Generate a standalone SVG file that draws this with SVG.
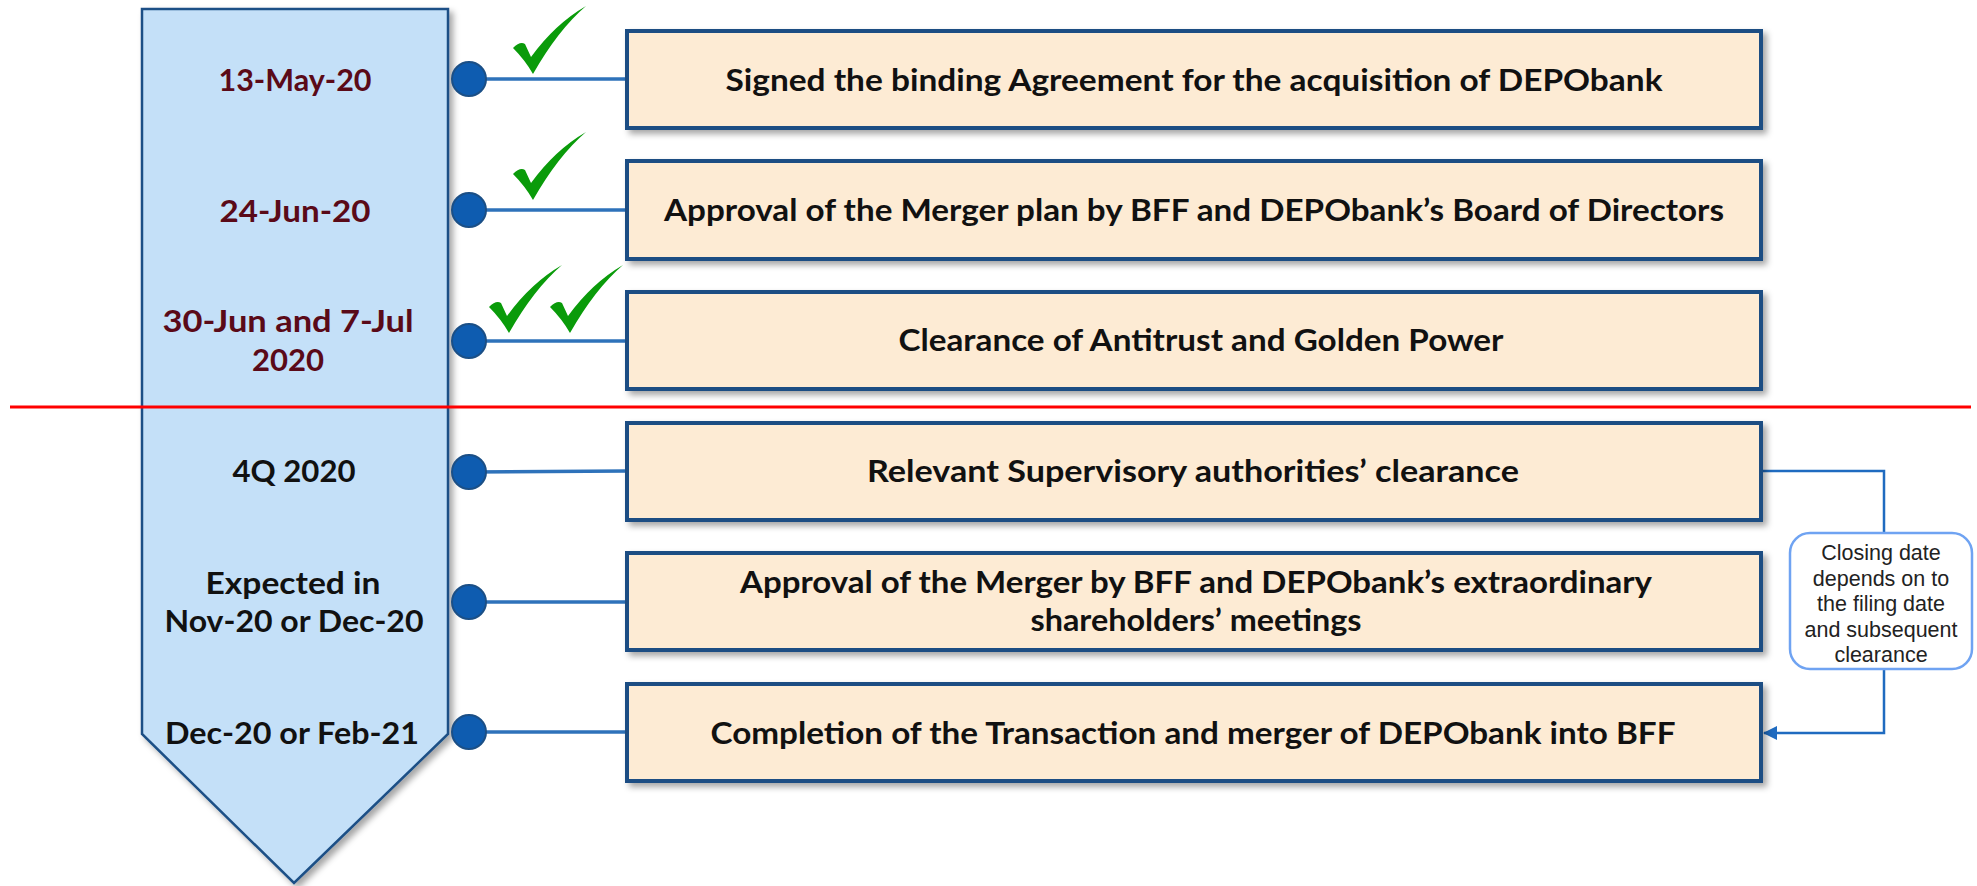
<svg xmlns="http://www.w3.org/2000/svg" width="1977" height="886" viewBox="0 0 1977 886">
<style>
.box{fill:#FDEBD4;stroke:#1F4E83;stroke-width:4;filter:url(#sh)}
.t{font-family:Lato,"Liberation Sans",sans-serif;font-weight:bold;font-size:30px;fill:#111;text-anchor:middle}
.d{font-family:Lato,"Liberation Sans",sans-serif;font-weight:bold;font-size:30px;text-anchor:middle}
.red{fill:#5A0A18}
.blk{fill:#111}
.dot{fill:#0E5CB0;stroke:#1B4F86;stroke-width:2}
.ln{stroke:#2E72BA;stroke-width:3.5;fill:none}
.chk{fill:#0A9B0A}
.co{font-family:"Liberation Sans",sans-serif;font-size:21.5px;fill:#222;text-anchor:middle}
</style>
<defs>
<filter id="sh" x="-5%" y="-10%" width="115%" height="130%">
<feDropShadow dx="4" dy="4" stdDeviation="3" flood-color="#000" flood-opacity="0.35"/>
</filter>
<marker id="ah" markerWidth="14" markerHeight="14" refX="13" refY="7" orient="auto" markerUnits="userSpaceOnUse" viewBox="0 0 14 14">
<path d="M0,0 L14,7 L0,14 Z" fill="#1F6BC0"/>
</marker>
<path id="tick" d="M-17,-26 Q-10,-33 -5,-30 L1,-17 Q25,-50 56,-68 Q28,-44 3,0 Q-5,-14 -17,-26 Z"/>
</defs>
<rect width="1977" height="886" fill="#fff"/>

<g id="timeline">
<path d="M142,9 L448,9 L448,734 L294,883 L142,734 Z" fill="#C4E0F8" stroke="#1B4F86" stroke-width="2.5" filter="url(#sh)"/>
</g>

<g id="connectors">
<line class="ln" x1="469" y1="79" x2="627" y2="79"/>
<line class="ln" x1="469" y1="210" x2="627" y2="210"/>
<line class="ln" x1="469" y1="341" x2="627" y2="341"/>
<line class="ln" x1="469" y1="472" x2="627" y2="471"/>
<line class="ln" x1="469" y1="602" x2="627" y2="602"/>
<line class="ln" x1="469" y1="732" x2="627" y2="732"/>
<polyline points="1761,471 1884,471 1884,533" fill="none" stroke="#1F6BC0" stroke-width="2.5"/>
<polyline points="1884,669 1884,733 1764,733" fill="none" stroke="#1F6BC0" stroke-width="2.5" marker-end="url(#ah)"/>
</g>

<g id="dots">
<circle class="dot" cx="469" cy="79" r="17"/>
<circle class="dot" cx="469" cy="210" r="17"/>
<circle class="dot" cx="469" cy="341" r="17"/>
<circle class="dot" cx="469" cy="472" r="17"/>
<circle class="dot" cx="469" cy="602" r="17"/>
<circle class="dot" cx="469" cy="732" r="17"/>
</g>

<g id="dates">
<text class="d red" x="295" y="91" textLength="153" lengthAdjust="spacingAndGlyphs">13-May-20</text>
<text class="d red" x="295" y="222" textLength="151" lengthAdjust="spacingAndGlyphs">24-Jun-20</text>
<text class="d red" x="288" y="332" textLength="251" lengthAdjust="spacingAndGlyphs">30-Jun and 7-Jul</text>
<text class="d red" x="288" y="371" textLength="72" lengthAdjust="spacingAndGlyphs">2020</text>
<text class="d blk" x="294" y="482" textLength="123" lengthAdjust="spacingAndGlyphs">4Q 2020</text>
<text class="d blk" x="293" y="594" textLength="175" lengthAdjust="spacingAndGlyphs">Expected in</text>
<text class="d blk" x="294" y="632" textLength="259" lengthAdjust="spacingAndGlyphs">Nov-20 or Dec-20</text>
<text class="d blk" x="292" y="744" textLength="254" lengthAdjust="spacingAndGlyphs">Dec-20 or Feb-21</text>
</g>

<g id="checks">
<use href="#tick" class="chk" x="530" y="74"/>
<use href="#tick" class="chk" x="530" y="200"/>
<use href="#tick" class="chk" x="506" y="333"/>
<use href="#tick" class="chk" x="567" y="333"/>
</g>

<g id="step1">
<rect class="box" x="627" y="31" width="1134" height="97"/>
<text class="t" x="1194" y="91" textLength="937" lengthAdjust="spacingAndGlyphs">Signed the binding Agreement for the acquisition of DEPObank</text>
</g>
<g id="step2">
<rect class="box" x="627" y="161" width="1134" height="98"/>
<text class="t" x="1194" y="221" textLength="1060" lengthAdjust="spacingAndGlyphs">Approval of the Merger plan by BFF and DEPObank’s Board of Directors</text>
</g>
<g id="step3">
<rect class="box" x="627" y="292" width="1134" height="97"/>
<text class="t" x="1201" y="351" textLength="605" lengthAdjust="spacingAndGlyphs">Clearance of Antitrust and Golden Power</text>
</g>

<g id="divider">
<line x1="10" y1="407" x2="1971" y2="407" stroke="#FF0000" stroke-width="3"/>
</g>

<g id="step4">
<rect class="box" x="627" y="423" width="1134" height="97"/>
<text class="t" x="1193" y="482" textLength="652" lengthAdjust="spacingAndGlyphs">Relevant Supervisory authorities’ clearance</text>
</g>
<g id="step5">
<rect class="box" x="627" y="553" width="1134" height="97"/>
<text class="t" x="1196" y="593" textLength="912" lengthAdjust="spacingAndGlyphs">Approval of the Merger by BFF and DEPObank’s extraordinary</text>
<text class="t" x="1196" y="631" textLength="331" lengthAdjust="spacingAndGlyphs">shareholders’ meetings</text>
</g>
<g id="step6">
<rect class="box" x="627" y="684" width="1134" height="97"/>
<text class="t" x="1193" y="744" textLength="965" lengthAdjust="spacingAndGlyphs">Completion of the Transaction and merger of DEPObank into BFF</text>
</g>

<g id="callout">
<rect x="1790" y="533" width="182" height="136" rx="20" ry="20" fill="#fff" stroke="#6FA3F2" stroke-width="2.5"/>
<text class="co" x="1881" y="560">Closing date</text>
<text class="co" x="1881" y="586">depends on to</text>
<text class="co" x="1881" y="611">the filing date</text>
<text class="co" x="1881" y="637">and subsequent</text>
<text class="co" x="1881" y="662">clearance</text>
</g>
</svg>
